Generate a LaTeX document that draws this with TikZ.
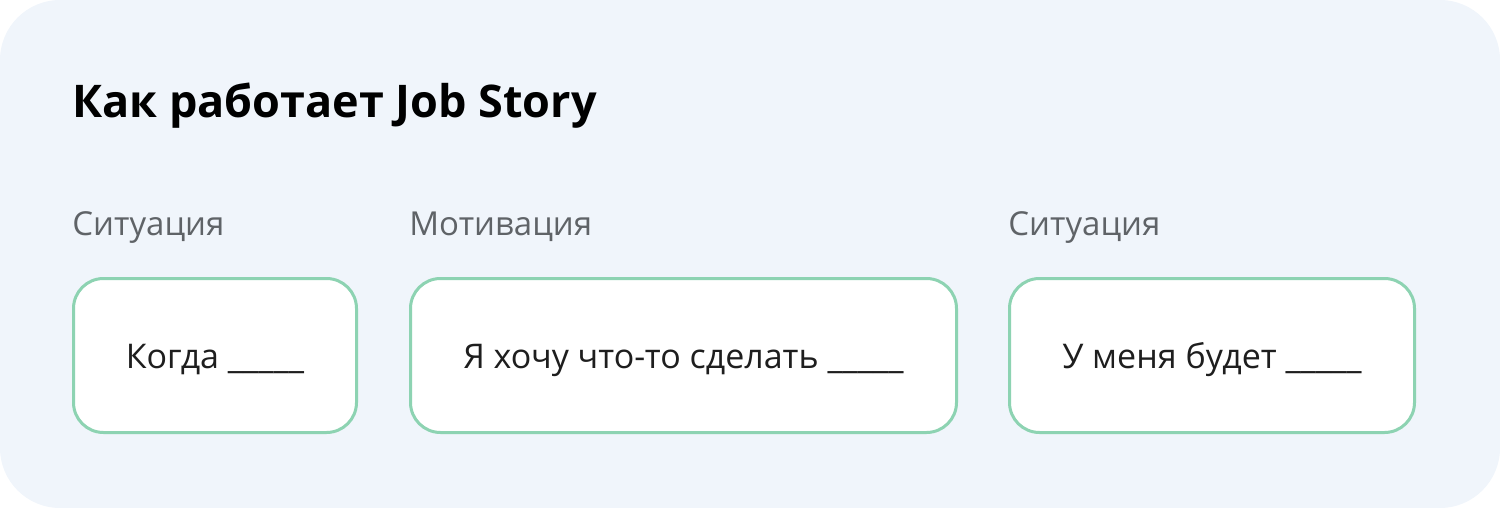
\documentclass[tikz,border=0pt]{standalone}
\usepackage{fontspec}
\setmainfont{Open Sans}
\usepackage{tikz}
\usetikzlibrary{positioning}
\definecolor{panelbg}{HTML}{F0F5FB}
\definecolor{boxline}{HTML}{8DD3B2}
\definecolor{labelgray}{HTML}{5F6367}
\definecolor{inktext}{HTML}{1E1E1E}

\begin{document}
\begin{tikzpicture}[x=0.5pt, y=-0.5pt,
  jobbox/.style={draw=boxline, line width=1.5pt, fill=white, rounded corners=15pt,
    minimum height=77pt, inner sep=0pt, text=inktext, text height=13pt, text depth=0pt,
    font=\fontsize{17}{20}\selectfont},
  steplabel/.style={anchor=base west, inner sep=0pt, text=labelgray, font=\fontsize{16.5}{20}\selectfont}]
\useasboundingbox (0,0) rectangle (1500,508);
\fill[panelbg, rounded corners=30pt] (0,0) rectangle (1500,508);

\node[anchor=base west, inner sep=0pt, text=black, font=\bfseries\fontsize{22.5}{27}\selectfont] (title) at (72,118) {Как работает Job Story};

% the three parts of the story
\node[jobbox, minimum width=141.5pt] (when) at (215,355.5) {Когда \_\_\_\_\_};
\node[jobbox, minimum width=273pt] (want) at (683.5,355.5) {Я хочу что-то сделать \_\_\_\_\_};
\node[jobbox, minimum width=202.5pt] (gain) at (1212,355.5) {У меня будет \_\_\_\_\_};

\node[steplabel] (whenlabel) at (72,235) {Ситуация};
\node[steplabel] (wantlabel) at (409,235) {Мотивация};
\node[steplabel] (gainlabel) at (1008,235) {Ситуация};
\end{tikzpicture}
\end{document}
